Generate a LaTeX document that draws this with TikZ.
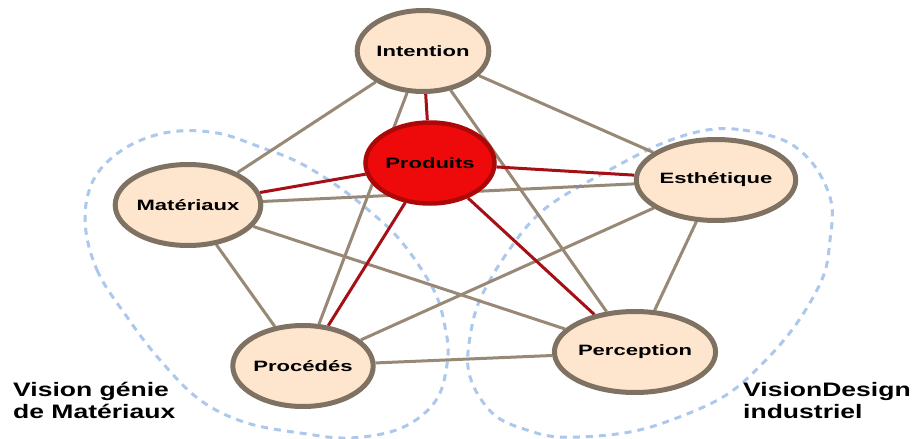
\documentclass[tikz,border=0pt]{standalone}
\usepackage{fontspec}
\setmainfont{Liberation Sans}
\newfontfamily\topicfont[FakeStretch=1.47]{Liberation Sans}
\newfontfamily\visionfont[FakeStretch=1.36]{Liberation Sans}
\usetikzlibrary{shapes.geometric,backgrounds}
\tikzset{
	>=stealth,
}
\definecolor{peach}{RGB}{253,230,205}
\definecolor{rim}{RGB}{128,114,98}
\definecolor{linkbrown}{RGB}{152,136,118}
\definecolor{brightred}{RGB}{238,10,10}
\definecolor{darkred}{RGB}{172,8,8}
\definecolor{linkred}{RGB}{165,15,22}
\definecolor{visionblue}{RGB}{172,200,236}

\begin{document}
\begin{tikzpicture}[x=1pt, y=-1pt,
	topic/.style = {ellipse, draw=rim, fill=peach, line width=5pt, minimum width=129pt, minimum height=81pt, inner sep=0, font=\topicfont\bfseries\fontsize{15}{18}\selectfont},
	core/.style = {topic, draw=darkred, fill=brightred, line width=4.5pt},
	link/.style = {draw=linkbrown, line width=3pt},
	redlink/.style = {draw=linkred, line width=3pt},
	vision/.style = {draw=visionblue, line width=3pt, dash pattern=on 7pt off 6pt},
	caption/.style = {align=left, anchor=base west, inner sep=0, font=\visionfont\bfseries\fontsize{19.5}{21.5}\selectfont}]
\useasboundingbox (0,0) rectangle (914,439);
\node[topic] (intention) at (423,51) {Intention};
\node[core] (produits) at (430,163) {Produits};
\node[topic] (materiaux) at (188,205) {Matériaux};
\node[topic] (esthetique) at (716,180) {Esthétique};
\node[topic] (procedes) at (303,366) {Procédés};
\node[topic] (perception) at (635,352) {Perception};
\node[caption] (geniemat) at (13,418) {Vision génie\\de Matériaux};
\node[caption] (designind) at (743,418) {VisionDesign\\industriel};
\begin{scope}[on background layer]
	% the two visions
	\draw[vision] plot[smooth cycle, tension=0.6] coordinates {(85,220) (97,270) (127,317) (160,360) (200,400) (247,423) (307,434) (347,438) (390,432) (420,417) (440,393) (448,355) (445,327) (437,297) (420,267) (400,240) (380,220) (343,190) (300,163) (260,147) (217,133) (170,132) (127,147) (95,177)};
	\draw[vision] plot[smooth cycle, tension=0.6] coordinates {(707,130) (743,130) (783,140) (807,157) (823,180) (832,207) (830,240) (823,277) (797,323) (763,363) (723,397) (663,423) (617,434) (560,437) (527,430) (497,417) (477,393) (468,367) (470,337) (477,307) (490,280) (507,253) (530,223) (557,200) (613,168) (663,143)};
	% outer links
	\draw[link] (intention) -- (materiaux);
	\draw[link] (intention) -- (esthetique);
	\draw[link] (intention) -- (procedes);
	\draw[link] (intention) -- (perception);
	\draw[link] (materiaux) -- (esthetique);
	\draw[link] (materiaux) -- (procedes);
	\draw[link] (materiaux) -- (perception);
	\draw[link] (esthetique) -- (procedes);
	\draw[link] (esthetique) -- (perception);
	\draw[link] (procedes) -- (perception);
	% links to the product
	\draw[redlink] (produits) -- (intention);
	\draw[redlink] (produits) -- (materiaux);
	\draw[redlink] (produits) -- (esthetique);
	\draw[redlink] (produits) -- (procedes);
	\draw[redlink] (produits) -- (perception);
\end{scope}
\end{tikzpicture}
\end{document}
